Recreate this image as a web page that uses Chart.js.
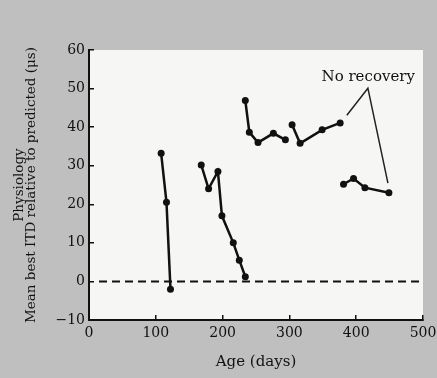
<!DOCTYPE html>
<html>
<head>
<meta charset="utf-8">
<script src="https://cdn.jsdelivr.net/npm/chart.js@4.4.1/dist/chart.umd.min.js"></script>
<style>
  html, body { margin: 0; padding: 0; background: #bfbfbf; }
  #wrap { width: 437px; height: 378px; }
</style>
</head>
<body>
<div id="wrap"><canvas id="myChart" width="437" height="378"></canvas></div>
<script>
// Ages (days) and mean best ITD relative to predicted (us) for each run
const agesA = [108, 116, 122];
const valsA = [33.2, 20.5, -2];
const agesB = [168, 179, 193, 199, 216, 225, 234];
const valsB = [30.2, 24, 28.5, 17, 10, 5.5, 1.2];
const agesC = [234, 240, 253, 276, 294];
const valsC = [46.9, 38.7, 36, 38.4, 36.7];
const agesD = [304, 316, 349, 376];
const valsD = [40.6, 35.8, 39.3, 41.1];
const agesE = [381, 396, 413, 449];
const valsE = [25.2, 26.7, 24.3, 23];

// Dashed reference at zero
const zeroAges = [15, 500];
const zeroVals = [0, 0];

// "No recovery" label and its two pointer lines
const noteText = 'No recovery';
const noteAge = 418;
const noteVal = 53;
const pointerAges = [386, 417.5, 447.5];
const pointerVals = [43.1, 50.1, 25.5];

const xTicks = [0, 100, 200, 300, 400, 500];
const yTicks = [-10, 0, 10, 20, 30, 40, 50, 60];

function pts(xs, ys) {
    return xs.map((x, i) => ({ x: x, y: ys[i] }));
}

function runSet(xs, ys) {
    return {
        data: pts(xs, ys),
        showLine: true,
        borderColor: '#111',
        backgroundColor: '#111',
        borderWidth: 2.5,
        pointRadius: 3.5,
        pointBorderWidth: 0
    };
}

// fond blanc de la zone de tracé + texte de l'annotation
const plotBg = {
    id: 'plotBg',
    beforeDraw(chart) {
        const { ctx, chartArea: a } = chart;
        ctx.save();
        ctx.fillStyle = '#f6f6f4';
        ctx.fillRect(a.left, a.top, a.right - a.left, a.bottom - a.top);
        ctx.restore();
    },
    afterDatasetsDraw(chart) {
        const { ctx, scales } = chart;
        ctx.save();
        ctx.font = '15px "DejaVu Serif"';
        ctx.fillStyle = '#111';
        ctx.textAlign = 'center';
        ctx.textBaseline = 'middle';
        ctx.fillText(noteText, scales.x.getPixelForValue(noteAge), scales.y.getPixelForValue(noteVal));
        ctx.restore();
    }
};

const serif = '"DejaVu Serif", "Liberation Serif", serif';

const ctx = document.getElementById('myChart').getContext('2d');
const myChart = new Chart(ctx, {
    type: 'scatter',
    data: {
        datasets: [
            {
                data: pts(zeroAges, zeroVals),
                showLine: true,
                borderColor: '#111',
                borderWidth: 2,
                borderDash: [8, 5],
                pointRadius: 0
            },
            {
                data: pts(pointerAges, pointerVals),
                showLine: true,
                borderColor: '#222',
                borderWidth: 1.5,
                pointRadius: 0
            },
            runSet(agesA, valsA),
            runSet(agesB, valsB),
            runSet(agesC, valsC),
            runSet(agesD, valsD),
            runSet(agesE, valsE)
        ]
    },
    options: {
        responsive: false,
        animation: false,
        layout: { padding: { left: 0, top: 50, right: 14, bottom: 0 } },
        plugins: {
            legend: { display: false },
            tooltip: { enabled: false }
        },
        scales: {
            x: {
                type: 'linear',
                min: 0,
                max: 500,
                afterBuildTicks: s => { s.ticks = xTicks.map(v => ({ value: v })); },
                afterFit: s => { s.height = 58; s.paddingLeft = 0; s.paddingRight = 0; },
                border: { display: true, color: '#111', width: 2 },
                grid: { drawOnChartArea: false, tickLength: -5, color: '#111', lineWidth: 1.5 },
                ticks: { color: '#111', padding: 10, maxRotation: 0, font: { family: serif, size: 14 } },
                title: {
                    display: true,
                    text: 'Age (days)',
                    color: '#111',
                    font: { family: serif, size: 15 },
                    padding: { top: 0, bottom: 7 }
                }
            },
            y: {
                type: 'linear',
                min: -10,
                max: 60,
                afterBuildTicks: s => { s.ticks = yTicks.map(v => ({ value: v })); },
                afterFit: s => { s.width = 89; s.paddingTop = 0; s.paddingBottom = 0; },
                border: { display: true, color: '#111', width: 2 },
                grid: { drawOnChartArea: false, tickLength: -5, color: '#111', lineWidth: 1.5 },
                ticks: {
                    color: '#111',
                    padding: 9,
                    font: { family: serif, size: 14 },
                    callback: v => v < 0 ? '\u2212' + Math.abs(v) : String(v)
                },
                title: {
                    display: true,
                    text: ['Physiology', 'Mean best ITD relative to predicted (\u03bcs)'],
                    color: '#111',
                    font: { family: serif, size: 13.5, lineHeight: 0.9 },
                    padding: { top: 13, bottom: 0 }
                }
            }
        }
    },
    plugins: [plotBg]
});
</script>
</body>
</html>
